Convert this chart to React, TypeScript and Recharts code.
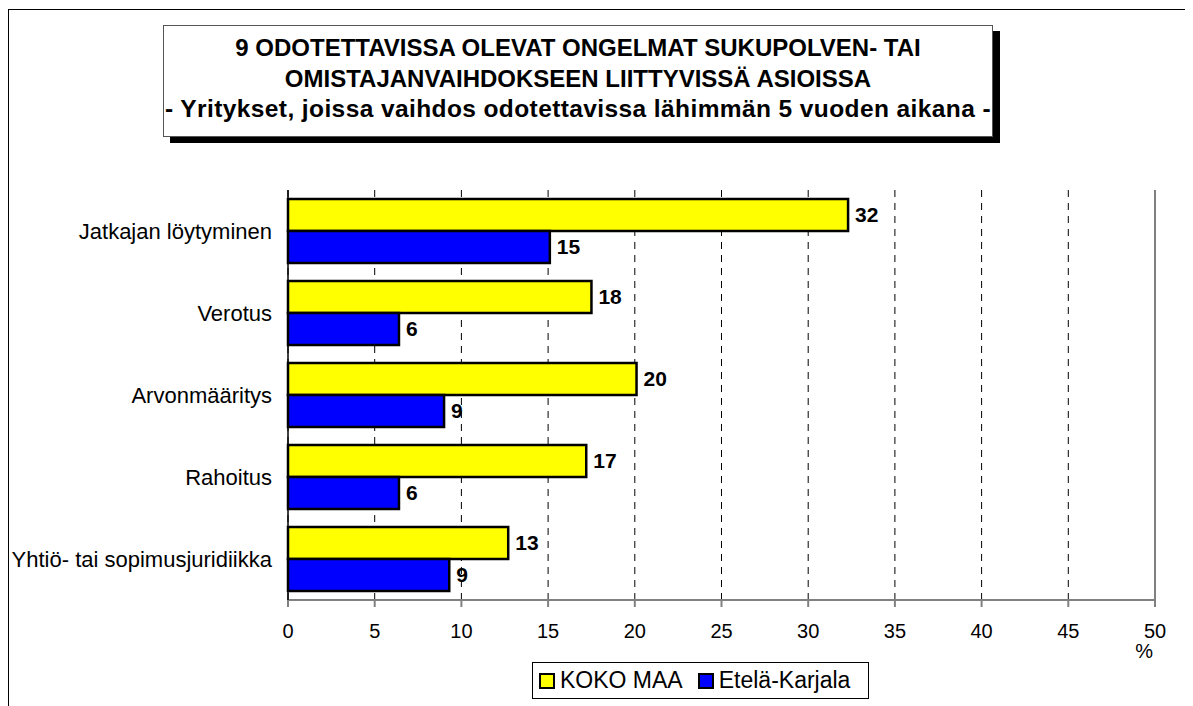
import React from 'react';
import { BarChart, Bar, XAxis, YAxis, CartesianGrid, LabelList, Legend, ReferenceLine } from 'recharts';

const categories = ['Jatkajan löytyminen', 'Verotus', 'Arvonmääritys', 'Rahoitus', 'Yhtiö- tai sopimusjuridiikka'];
const kokoMaa = [32.3, 17.5, 20.1, 17.2, 12.7];
const etelaKarjala = [15.1, 6.4, 9.0, 6.4, 9.3];
const seriesNames = ['KOKO MAA', 'Etelä-Karjala'];
const xTicks = [0, 5, 10, 15, 20, 25, 30, 35, 40, 45, 50];
const titleLines = [
  '9 ODOTETTAVISSA OLEVAT ONGELMAT SUKUPOLVEN- TAI',
  'OMISTAJANVAIHDOKSEEN LIITTYVISSÄ ASIOISSA',
  '- Yritykset, joissa vaihdos odotettavissa lähimmän 5 vuoden aikana -',
];
const unitLabel = '%';

const data = categories.map((name, i) => ({ name, a: kokoMaa[i], b: etelaKarjala[i] }));

const FONT = '"Liberation Sans", Arial, sans-serif';

const LegendContent = (props: any) => {
  const payload = [...(props.payload || [])].sort(
    (p: any, q: any) => seriesNames.indexOf(p.value) - seriesNames.indexOf(q.value)
  );
  return (
    <div
      style={{
        boxSizing: 'border-box',
        width: 337,
        height: 37,
        border: '1px solid #000',
        background: '#fff',
        display: 'flex',
        alignItems: 'center',
        paddingLeft: 6,
        fontFamily: FONT,
        fontSize: 23,
        color: '#000',
        gap: 15,
      }}
    >
      {payload.map((p: any) => (
        <div key={p.value} style={{ display: 'flex', alignItems: 'center' }}>
          <span
            style={{
              display: 'inline-block',
              width: 12,
              height: 12,
              background: p.color,
              border: '2px solid #000',
              marginRight: 5,
            }}
          />
          <span>{p.value}</span>
        </div>
      ))}
    </div>
  );
};

export default function App() {
  return (
    <div
      style={{
        position: 'relative',
        top: 1,
        width: 1180,
        height: 720,
        border: '1px solid #000',
        boxSizing: 'border-box',
        background: '#fff',
        fontFamily: FONT,
      }}
    >
      <div
        style={{
          position: 'absolute',
          left: 154,
          top: 15,
          width: 830,
          height: 112,
          boxSizing: 'border-box',
          border: '1px solid #555',
          background: '#fff',
          boxShadow: '7px 6px 0 #000',
          textAlign: 'center',
          fontWeight: 'bold',
          fontSize: 24,
          lineHeight: '30.5px',
          paddingTop: 7,
          color: '#000',
          whiteSpace: 'nowrap',
          zIndex: 2,
        }}
      >
        {titleLines.map((t, i) => (
          <div key={t} style={{ letterSpacing: i === 2 ? 0.4 : 0, fontSize: i === 2 ? 24.5 : 24 }}>{t}</div>
        ))}
      </div>
      <div style={{ position: 'absolute', left: 0, top: 0 }}>
        <BarChart
          width={1178}
          height={696}
          data={data}
          layout="vertical"
          margin={{ top: 180, right: 32, bottom: 46, left: 0 }}
          barGap={0}
          barCategoryGap={9}
        >
          <CartesianGrid horizontal={false} vertical={true} stroke="#000" strokeDasharray="7 6" />
          <XAxis
            type="number"
            domain={[0, 50]}
            ticks={xTicks}
            interval={0}
            height={60}
            tickSize={7}
            tickMargin={17}
            stroke="#808080"
            strokeWidth={2}
            tick={{ fill: '#000', fontSize: 20, fontFamily: FONT }}
            label={{ value: unitLabel, position: 'insideBottomRight', offset: 2, fill: '#000', fontSize: 20, fontFamily: FONT }}
          />
          <XAxis xAxisId="top" type="number" domain={[0, 50]} orientation="top" height={0} tick={false} tickLine={false} stroke="#808080" strokeWidth={2} />
          <YAxis
            type="category"
            dataKey="name"
            width={279}
            tickSize={0}
            tickMargin={16}
            stroke="#000"
            strokeWidth={1.5}
            tick={{ fill: '#000', fontSize: 22, fontFamily: FONT }}
          />
          <ReferenceLine x={50} stroke="#808080" strokeWidth={2} />
          <Legend
            layout="horizontal"
            verticalAlign="middle"
            align="center"
            content={<LegendContent />}
            wrapperStyle={{ position: 'absolute', left: 523, top: 652, width: 337, height: 37 }}
          />
          <Bar dataKey="a" name={seriesNames[0]} fill="#FFFF00" stroke="#000" strokeWidth={2.5} isAnimationActive={false}>
            <LabelList
              dataKey="a"
              position="right"
              offset={7}
              formatter={(v: any) => Math.round(Number(v))}
              style={{ fill: '#000', fontSize: 21, fontWeight: 'bold', fontFamily: FONT }}
            />
          </Bar>
          <Bar dataKey="b" name={seriesNames[1]} fill="#0000FF" stroke="#000" strokeWidth={2.5} isAnimationActive={false}>
            <LabelList
              dataKey="b"
              position="right"
              offset={7}
              formatter={(v: any) => Math.round(Number(v))}
              style={{ fill: '#000', fontSize: 21, fontWeight: 'bold', fontFamily: FONT }}
            />
          </Bar>
        </BarChart>
      </div>
    </div>
  );
}
